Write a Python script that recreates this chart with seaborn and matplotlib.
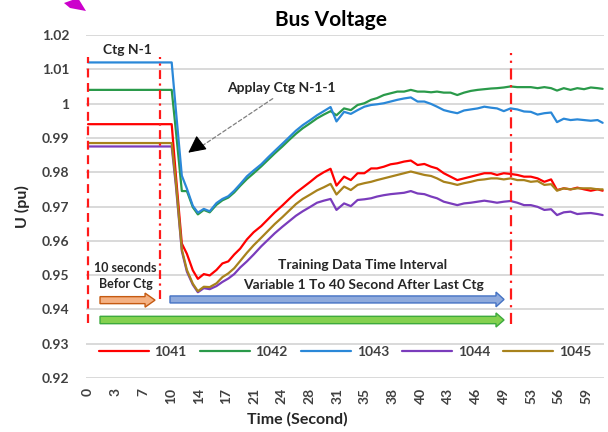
import numpy as np
import pandas as pd
import matplotlib
matplotlib.use("Agg")
import matplotlib.pyplot as plt
import seaborn as sns
from matplotlib.patches import FancyArrow, Polygon

# ---------------- data ----------------
time_s = [0.0, 9.9, 10.4, 11.1, 11.7, 12.4, 13.0, 13.7, 14.4, 15.2, 15.9, 16.6, 17.3, 18.0,
          18.8, 19.6, 20.5, 21.3, 22.1, 23.0, 23.8, 24.6, 25.4, 26.3, 27.1, 27.9, 28.7, 29.4,
          30.3, 31.1, 31.9, 32.7, 33.5, 34.2, 35.0, 35.8, 36.6, 37.4, 38.2, 39.0, 39.8, 40.6,
          41.3, 42.1, 42.9, 43.7, 44.5, 45.3, 46.1, 46.9, 47.7, 48.4, 49.2, 50.0, 50.8, 51.6,
          52.4, 53.2, 54.0, 54.8, 55.5, 56.3, 57.1, 57.9, 58.7, 59.5, 60.3, 60.9]

bus_ids = ["1041", "1042", "1043", "1044", "1045"]

v1041 = [0.9940, 0.9940, 0.9790, 0.9592, 0.9562, 0.9514, 0.9489, 0.9503, 0.9499, 0.9515,
         0.9534, 0.9540, 0.9560, 0.9577, 0.9604, 0.9625, 0.9643, 0.9663, 0.9683, 0.9703,
         0.9722, 0.9740, 0.9755, 0.9772, 0.9788, 0.9800, 0.9810, 0.9761, 0.9787, 0.9777,
         0.9797, 0.9797, 0.9811, 0.9811, 0.9816, 0.9823, 0.9826, 0.9831, 0.9834, 0.9821,
         0.9824, 0.9816, 0.9811, 0.9797, 0.9787, 0.9777, 0.9782, 0.9787, 0.9792, 0.9797,
         0.9797, 0.9792, 0.9797, 0.9795, 0.9792, 0.9787, 0.9787, 0.9782, 0.9772, 0.9779,
         0.9748, 0.9753, 0.9750, 0.9755, 0.9750, 0.9746, 0.9750, 0.9746]
v1042 = [1.0040, 1.0040, 0.9920, 0.9745, 0.9745, 0.9698, 0.9677, 0.9690, 0.9683, 0.9705,
         0.9718, 0.9726, 0.9741, 0.9760, 0.9780, 0.9797, 0.9817, 0.9836, 0.9855, 0.9875,
         0.9894, 0.9912, 0.9928, 0.9943, 0.9957, 0.9968, 0.9978, 0.9966, 0.9986, 0.9981,
         0.9996, 1.0001, 1.0011, 1.0016, 1.0025, 1.0030, 1.0035, 1.0035, 1.0040, 1.0035,
         1.0035, 1.0033, 1.0035, 1.0032, 1.0032, 1.0025, 1.0032, 1.0037, 1.0040, 1.0042,
         1.0044, 1.0045, 1.0047, 1.0050, 1.0048, 1.0048, 1.0048, 1.0045, 1.0048, 1.0045,
         1.0038, 1.0045, 1.0040, 1.0045, 1.0042, 1.0047, 1.0045, 1.0043]
v1043 = [1.0120, 1.0120, 0.9980, 0.9790, 0.9752, 0.9702, 0.9682, 0.9693, 0.9686, 0.9710,
         0.9722, 0.9730, 0.9746, 0.9765, 0.9788, 0.9805, 0.9823, 0.9843, 0.9862, 0.9883,
         0.9902, 0.9921, 0.9937, 0.9952, 0.9966, 0.9978, 0.9990, 0.9948, 0.9976, 0.9970,
         0.9981, 0.9991, 0.9996, 0.9998, 1.0001, 1.0006, 1.0011, 1.0015, 1.0018, 1.0006,
         1.0006, 0.9999, 0.9991, 0.9981, 0.9976, 0.9972, 0.9980, 0.9983, 0.9986, 0.9991,
         0.9988, 0.9986, 0.9978, 0.9986, 0.9983, 0.9977, 0.9976, 0.9968, 0.9972, 0.9974,
         0.9946, 0.9956, 0.9952, 0.9954, 0.9952, 0.9950, 0.9952, 0.9944]
v1044 = [0.9875, 0.9875, 0.9760, 0.9570, 0.9510, 0.9472, 0.9450, 0.9462, 0.9459, 0.9468,
         0.9480, 0.9490, 0.9503, 0.9522, 0.9540, 0.9560, 0.9584, 0.9603, 0.9622, 0.9641,
         0.9657, 0.9673, 0.9686, 0.9699, 0.9711, 0.9717, 0.9722, 0.9690, 0.9709, 0.9701,
         0.9719, 0.9721, 0.9724, 0.9729, 0.9733, 0.9736, 0.9738, 0.9740, 0.9745, 0.9738,
         0.9736, 0.9729, 0.9724, 0.9714, 0.9709, 0.9704, 0.9709, 0.9711, 0.9714, 0.9717,
         0.9714, 0.9711, 0.9714, 0.9716, 0.9711, 0.9704, 0.9704, 0.9699, 0.9690, 0.9692,
         0.9675, 0.9683, 0.9685, 0.9678, 0.9680, 0.9681, 0.9678, 0.9675]
v1045 = [0.9885, 0.9885, 0.9770, 0.9575, 0.9515, 0.9475, 0.9453, 0.9466, 0.9465, 0.9476,
         0.9494, 0.9505, 0.9520, 0.9541, 0.9565, 0.9587, 0.9609, 0.9629, 0.9649, 0.9669,
         0.9688, 0.9707, 0.9722, 0.9735, 0.9747, 0.9756, 0.9766, 0.9735, 0.9758, 0.9748,
         0.9763, 0.9768, 0.9772, 0.9777, 0.9782, 0.9787, 0.9792, 0.9797, 0.9802, 0.9797,
         0.9792, 0.9789, 0.9782, 0.9772, 0.9768, 0.9763, 0.9768, 0.9772, 0.9777, 0.9779,
         0.9782, 0.9782, 0.9779, 0.9782, 0.9777, 0.9777, 0.9772, 0.9774, 0.9763, 0.9765,
         0.9746, 0.9753, 0.9750, 0.9753, 0.9753, 0.9753, 0.9750, 0.9750]

x_tick_labels = ["0", "3", "7", "10", "14", "17", "21", "24", "28", "31", "35", "38",
                 "40", "43", "46", "49", "53", "56", "59"]
y_ticks = [0.92, 0.93, 0.94, 0.95, 0.96, 0.97, 0.98, 0.99, 1.00, 1.01, 1.02]
y_tick_labels = ["0.92", "0.93", "0.94", "0.95", "0.96", "0.97", "0.98", "0.99", "1",
                 "1.01", "1.02"]

# event marker lines (time, bottom, top)
marker_times = [0.0, 8.5, 50.05]
marker_bottoms = [0.936, 0.943, 0.9357]
marker_tops = [1.0136, 1.0136, 1.0148]

colors = ["#ff0000", "#2a9a4a", "#2a88d8", "#7a3cbc", "#a8821c"]

# ---------------- figure ----------------
sns.set_theme(style="white")
plt.rcParams["font.family"] = ["Lato", "DejaVu Sans"]

fig = plt.figure(figsize=(6.08, 4.32), dpi=100)
ax = fig.add_axes([86 / 608, 1 - 378 / 432, 518 / 608, 343 / 432])

series = [v1041, v1042, v1043, v1044, v1045]
df = pd.DataFrame({
    "Time": np.tile(time_s, len(bus_ids)),
    "U": np.concatenate(series),
    "Bus": np.repeat(bus_ids, len(time_s)),
})

sns.lineplot(data=df, x="Time", y="U", hue="Bus", palette=colors, linewidth=1.6,
             estimator=None, sort=False, ax=ax)

ax.set_xlim(-0.24, 61.06)
ax.set_ylim(0.92, 1.02)
ax.set_yticks(y_ticks)
ax.set_yticklabels(y_tick_labels)
ax.set_xticks(np.linspace(0, 59, len(x_tick_labels)))
ax.set_xticklabels(x_tick_labels, rotation=90)
ax.yaxis.grid(True, color="#d9d9d9", linewidth=1.4)
ax.xaxis.grid(False)
ax.set_axisbelow(True)
for s in ax.spines.values():
    s.set_visible(False)
ax.tick_params(axis="y", length=0, pad=12, labelsize=10, labelcolor="#404040")
ax.tick_params(axis="x", length=0, pad=7, labelsize=10, labelcolor="#404040")
for lbl in ax.get_xticklabels() + ax.get_yticklabels():
    lbl.set_fontweight("bold")

ax.set_xlabel("Time (Second)", fontsize=11.5, fontweight="bold", color="#262626")
ax.xaxis.set_label_coords(0.407, -0.098)
ax.set_ylabel("U (pu)", fontsize=11.5, fontweight="bold", color="#262626")
ax.yaxis.set_label_coords(-0.108, 0.5)

fig.text(331 / 608, 1 - 20 / 432, "Bus Voltage", ha="center", va="center",
         fontsize=15, fontweight="bold", color="#000000")

# legend
handles, labels = ax.get_legend_handles_labels()
leg = ax.legend(handles, labels, ncol=5, loc="center",
                bbox_to_anchor=(345 / 608, 1 - 352 / 432), bbox_transform=fig.transFigure,
                frameon=False, handlelength=3.6, handletextpad=0.4, columnspacing=0.95,
                prop=dict(weight="bold", size=10))
for t in leg.get_texts():
    t.set_color("#404040")
for h in leg.get_lines():
    h.set_linewidth(1.6)

# event marker lines
styles = [(0, (4, 2.5)), (0, (4, 2, 1, 2)), (0, (5, 2.5, 1, 2.5))]
for xm, yb, yt, ls in zip(marker_times, marker_bottoms, marker_tops, styles):
    ax.plot([xm, xm], [yb, yt], color="#ff1a1a", lw=1.6, linestyle=ls, zorder=3)

# annotations
ax.text(4.62, 1.0156, "Ctg N-1", ha="center", va="center", fontsize=10,
        fontweight="bold", color="#262626")
ax.text(22.84, 1.00455, "Applay Ctg N-1-1", ha="center", va="center", fontsize=10,
        fontweight="bold", color="#262626")
ax.annotate("", xy=(12.6, 0.9862), xytext=(22.13, 1.0019),
            arrowprops=dict(arrowstyle="-", color="#7f7f7f", lw=0.9,
                            linestyle=(0, (3, 2))))
ax.annotate("", xy=(11.6, 0.9852), xytext=(13.2, 0.9882),
            arrowprops=dict(arrowstyle="-|>,head_length=0.9,head_width=0.45",
                            color="black", lw=0.8))

ax.text(4.38, 0.95207, "10 seconds", ha="center", va="center", fontsize=9,
        fontweight="bold", color="#262626")
ax.text(4.44, 0.94741, "Befor Ctg", ha="center", va="center", fontsize=9,
        fontweight="bold", color="#262626")
ax.text(32.54, 0.95294, "Training Data Time Interval", ha="center", va="center",
        fontsize=10, fontweight="bold", color="#262626")
ax.text(32.54, 0.94711, "Variable 1 To 40 Second After Last Ctg", ha="center",
        va="center", fontsize=10, fontweight="bold", color="#262626")

# block arrows
ax.add_patch(FancyArrow(1.42, 0.9427, 6.51, 0, width=0.00204, head_width=0.0041,
                        head_length=1.18, length_includes_head=True,
                        facecolor="#f4b183", edgecolor="#c55a11", lw=1.0, zorder=4))
ax.add_patch(FancyArrow(9.70, 0.9429, 39.53, 0, width=0.00204, head_width=0.0043,
                        head_length=0.95, length_includes_head=True,
                        facecolor="#8faadc", edgecolor="#4472c4", lw=1.0, zorder=4))
ax.add_patch(FancyArrow(1.42, 0.93691, 47.81, 0, width=0.00215, head_width=0.0041,
                        head_length=0.95, length_includes_head=True,
                        facecolor="#84d14f", edgecolor="#3daa3d", lw=1.0, zorder=4))

# magenta corner mark
fig.add_artist(Polygon([(64 / 608, 1 - 3 / 432), (78 / 608, 1.0 + 2 / 432),
                        (86 / 608, 1 - 11 / 432), (70 / 608, 1 - 8 / 432)], closed=True,
                       transform=fig.transFigure, facecolor="#cc00cc", edgecolor="none"))

fig.savefig("out.png", dpi=100)
